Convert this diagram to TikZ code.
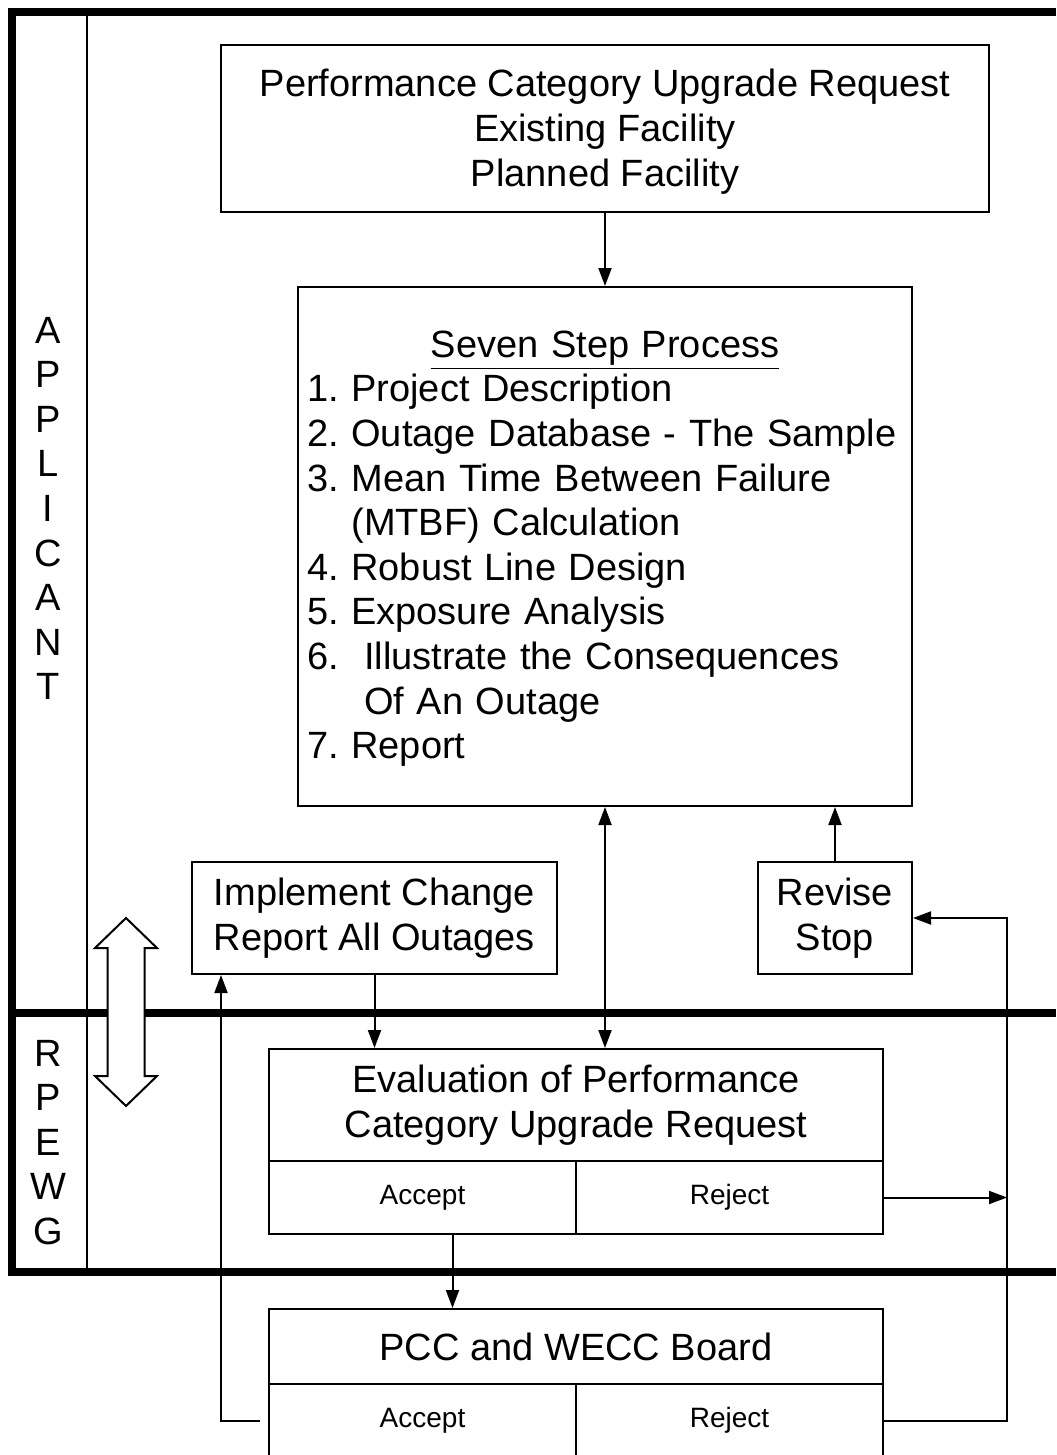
\documentclass[tikz,border=0pt]{standalone}
\usepackage{fontspec}
\setmainfont{Liberation Sans}
\usetikzlibrary{arrows.meta}
\frenchspacing

\tikzset{
    box/.style={draw, line width=1pt, inner sep=0pt, align=center,
        font=\fontsize{19}{22.3}\selectfont},
    cell/.style={draw, line width=1pt, inner sep=0pt, minimum width=153.5pt,
        font=\fontsize{14}{16}\selectfont},
    lane/.style={line width=4pt},
    >={Triangle[length=9pt,width=6.5pt]}
}

\begin{document}
\begin{tikzpicture}[x=0.5pt, y=-0.5pt]
            \useasboundingbox (0,0) rectangle (1056,1455);
            \clip (0,0) rectangle (1056,1455);
            % Swim lanes
            \draw[lane] (1056,12) -- (12,12) -- (12,1272) -- (1056,1272);
            \draw[lane] (12,1013) -- (1056,1013);
            \draw[line width=0.7pt] (87,12) -- (87,1272);
            \foreach \ch [count=\i] in {A,P,P,L,I,C,A,N,T} {
                \node[font=\fontsize{19}{22.3}\selectfont] (Applicant-\i)
                at (48,{330+44.6*(\i-1)}) {\ch};
            }
            \foreach \ch [count=\i] in {R,P,E,W,G} {
                \node[font=\fontsize{19}{22.3}\selectfont] (Rpewg-\i)
                at (48,{1053+44.5*(\i-1)}) {\ch};
            }
            % Hollow double arrow between the lanes
            \draw[line width=1pt, fill=white] (126,918) -- (157,948) -- (144.5,948)
                -- (144.5,1076) -- (157,1076) -- (126,1106) -- (95,1076)
                -- (107.5,1076) -- (107.5,948) -- (95,948) -- cycle;
            % Applicant boxes
            \node[box, minimum width=384pt, minimum height=83.5pt] (Request) at (605,128.5)
                {\rule{0pt}{17pt}Performance Category Upgrade Request\\Existing Facility\\Planned Facility};
            \node[box, align=left, text width=298pt, minimum height=259.5pt,
                inner xsep=4.5pt] (Steps) at (605,546.5) {%
                \makebox[\linewidth]{\rule{0pt}{15.5pt}\underline{Seven Step Process}}\\
                1. Project Description\\
                2. Outage Database - The Sample\\
                3. Mean Time Between Failure\\
                \phantom{3. }(MTBF) Calculation\\
                4. Robust Line Design\\
                5. Exposure Analysis\\
                6.\ \ Illustrate the Consequences\\
                \phantom{6.\ \ }Of An Outage\\
                7. Report};
            \node[box, minimum width=182.5pt, minimum height=56pt] (Implement) at (374.5,918)
                {Implement Change\\Report All Outages};
            \node[box, minimum width=77pt, minimum height=56pt] (Revise) at (835,918)
                {Revise\\Stop};
            % RPEWG evaluation
            \node[box, minimum width=307pt, minimum height=56pt] (Eval) at (576,1105)
                {Evaluation of Performance\\Category Upgrade Request};
            \node[cell, minimum height=36.5pt] (EvalAccept) at (422.5,1197.5) {Accept};
            \node[cell, minimum height=36.5pt] (EvalReject) at (729.5,1197.5) {Reject};
            % Board decision
            \node[box, minimum width=307pt, minimum height=37.5pt] (Board) at (576,1346.5)
                {PCC and WECC Board};
            \node[cell, minimum height=36.5pt] (BoardAccept) at (422.5,1420.5) {Accept};
            \node[cell, minimum height=36.5pt] (BoardReject) at (729.5,1420.5) {Reject};
            % Arrows
            \coordinate (RightBus) at (1007,918);
            \coordinate (LeftBus) at ([xshift=15pt]Implement.south west);
            \draw[->, line width=1pt] (Request) -- (Steps);
            \draw[->, line width=1pt] (Revise) -- (Revise |- Steps.south);
            \draw[<->, line width=1pt] (Steps.south) -- (Steps.south |- Eval.north);
            \draw[->, line width=1pt] (Implement) -- (Implement |- Eval.north);
            \draw[->, line width=1pt] ([xshift=15pt]EvalAccept.south)
                -- ([xshift=15pt]EvalAccept.south |- Board.north);
            \draw[->, line width=1pt] (EvalReject.east) -- (EvalReject.east -| RightBus);
            \draw[->, line width=1pt] (BoardReject.east) -| (RightBus) -- (Revise.east);
            \draw[->, line width=1pt, shorten <=4pt] (BoardAccept.west) -| (LeftBus);
\end{tikzpicture}
\end{document}
